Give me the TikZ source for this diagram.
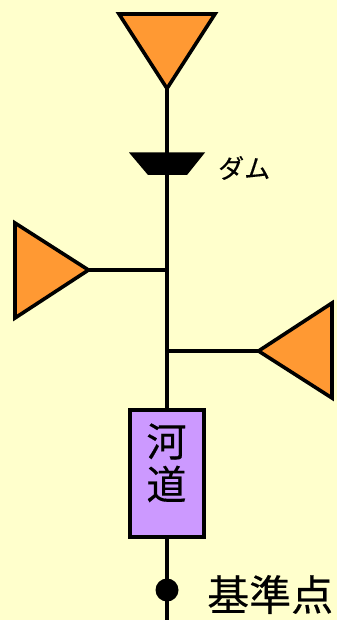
\documentclass[tikz,border=0pt]{standalone}
\usepackage{fontspec}
\newfontfamily\cjk[FakeBold=0.35]{Noto Sans CJK JP}
\definecolor{bgc}{HTML}{FFFFCC}
\definecolor{tri}{HTML}{FF9933}
\definecolor{chan}{HTML}{CC99FF}
\tikzset{
  inflow/.style={draw=black,fill=tri,line width=3.6pt,miter limit=10},
  conn/.style={draw=black,line width=3.6pt},
  chanbox/.style={draw=black,fill=chan,line width=3.6pt,minimum width=74pt,minimum height=127pt,inner sep=0pt,outer sep=0pt},
  gauge/.style={circle,fill=black,draw=none,minimum size=23pt,inner sep=0pt},
  lab/.style={inner sep=0pt,font=\cjk,text=black}
}
\begin{document}
\begin{tikzpicture}[x=1pt,y=-1pt]
\useasboundingbox (0,0) rectangle (337,620);
\fill[bgc] (0,0) rectangle (337,620);
% named points
\coordinate (topTip) at (167,88.5);
\coordinate (leftTip) at (88.5,270);
\coordinate (rightTip) at (258.5,351);
\coordinate (joinL) at (167,270);
\coordinate (joinR) at (167,351);
\coordinate (bottom) at (167,620);
\node[chanbox,anchor=center] (channel) at (167,473.5) {};
\node[gauge] (base) at (167,590) {};
% connectors
\draw[conn] (topTip) -- (channel.north);
\draw[conn] (leftTip) -- (joinL);
\draw[conn] (rightTip) -- (joinR);
\draw[conn] (channel.south) -- (bottom);
% shapes
\path[inflow] (119,14) -- (215,14) -- (topTip) -- cycle;
\path[inflow] (15,223) -- (leftTip) -- (15,318) -- cycle;
\path[inflow] (332,303) -- (rightTip) -- (332,398) -- cycle;
\fill[black] (129,152.5) -- (205,152.5) -- (187,175) -- (148,175) -- cycle;
\node[chanbox,anchor=center] at (167,473.5) {};
% labels
\node[lab,font=\cjk\fontsize{40}{40}\selectfont] (he) at (166.5,441.5) {河};
\node[lab,font=\cjk\fontsize{40}{40}\selectfont] (dao) at (166.5,484) {道};
\node[lab,font=\cjk\fontsize{26}{26}\selectfont,anchor=west] (dam) at (218,168) {ダム};
\node[lab,font=\cjk\fontsize{42}{42}\selectfont,anchor=west] (kijun) at (207,594.5) {基準点};
\end{tikzpicture}
\end{document}
